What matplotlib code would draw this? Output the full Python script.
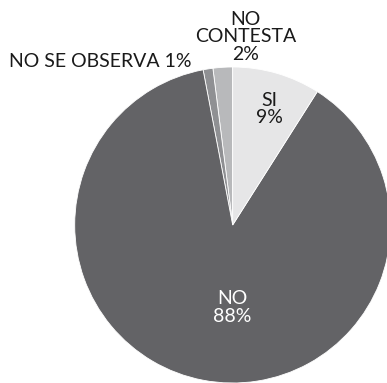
import matplotlib
matplotlib.use("Agg")
import matplotlib.pyplot as plt

# Survey answers, counterclockwise from the top
categories = ["NO CONTESTA", "NO SE OBSERVA", "NO", "SI"]
values = [2, 1, 88, 9]
colors = ["#b8b9bb", "#8f9093", "#636366", "#e6e6e7"]

# label text and placement (data units, pie radius = 1)
label_text = ["NO\nCONTESTA\n2%", "NO SE OBSERVA 1%", "NO\n88%", "SI\n9%"]
label_pos = [(0.08, 1.19), (-0.84, 1.035), (0.0, -0.52), (0.235, 0.735)]
label_color = ["#1a1a1a", "#1a1a1a", "white", "#1a1a1a"]

plt.rcParams["font.family"] = ["Lato", "DejaVu Sans"]

fig = plt.figure(figsize=(3.87, 3.83), dpi=100)
ax = fig.add_axes([0, 0, 1, 1])
ax.pie(values, colors=colors, startangle=90, counterclock=True,
       radius=1.0, wedgeprops=dict(edgecolor="white", linewidth=0.6))

for txt, (x, y), c in zip(label_text, label_pos, label_color):
    ax.text(x, y, txt, ha="center", va="center", color=c, fontsize=14,
            fontweight="normal", linespacing=1.05)

ax.set_xlim(-1.473, 0.977)
ax.set_ylim(-1.0, 1.424)
ax.set_aspect("auto")
ax.axis("off")

fig.savefig("out.png", dpi=100)
